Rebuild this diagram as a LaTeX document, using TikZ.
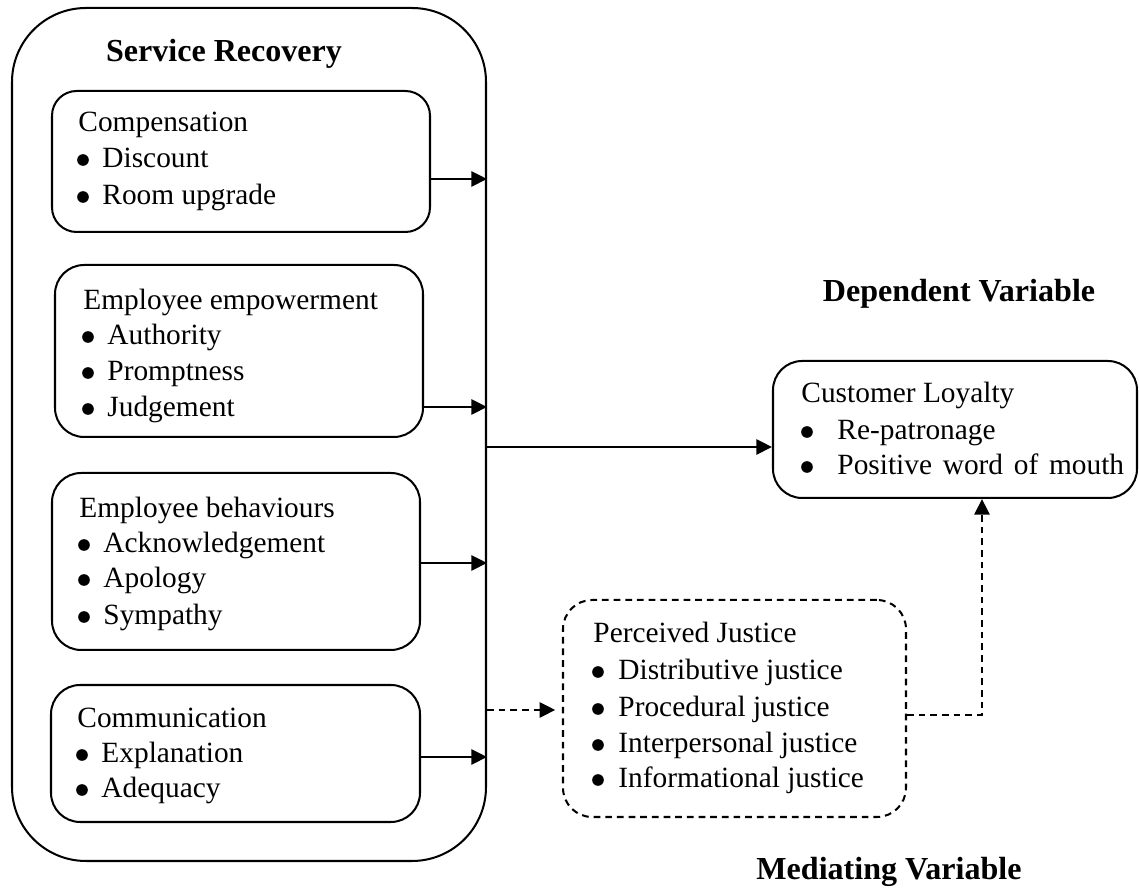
\documentclass[tikz,border=0pt]{standalone}
\usepackage{fontspec}
\setmainfont{Liberation Serif}
\usetikzlibrary{arrows.meta,calc,fit}

\begin{document}
\begin{tikzpicture}[x=0.446pt,y=-0.446pt,
  box/.style={draw,line width=0.9pt,rounded corners=11pt,inner sep=0pt},
  outerbox/.style={draw,line width=0.9pt,rounded corners=33pt,inner sep=0pt},
  dbox/.style={box,dash pattern=on 3pt off 2.2pt,rounded corners=13pt},
  txt/.style={anchor=base west,inner sep=0pt,font=\fontsize{13.1}{15}\selectfont},
  ttl/.style={anchor=base,inner sep=0pt,font=\fontsize{14.3}{17}\selectfont\bfseries},
  arr/.style={line width=0.9pt,-{Triangle[length=7pt,width=6.8pt]}},
  darr/.style={arr,dash pattern=on 3pt off 2.2pt}]
\useasboundingbox (0,0) rectangle (1139,892);

% a bulleted line: name, position of the bullet's left edge, text, [indent]
\newcommand{\bitem}[4][24]{%
  \node[txt] (#2) at ($(#3)+(#1,0)$) {#4};
  \fill ($(#3)+(5,-8)$) circle (2.6pt);}

% outer frame holding the four service recovery dimensions
\node[outerbox,fit={(12,8) (486,861)}] (outer) {};
\node[ttl] (srtitle) at (224,62) {Service Recovery};

% compensation
\node[box,fit={(52,91) (430,232)}] (comp) {};
\node[txt] (comp-t) at (78,132) {Compensation};
\bitem{comp-1}{78,168}{Discount}
\bitem{comp-2}{78,205}{Room upgrade}

% employee empowerment
\node[box,rounded corners=13pt,fit={(55,265) (423,437)}] (emp) {};
\node[txt] (emp-t) at (83,310) {Employee empowerment};
\bitem{emp-1}{83,345}{Authority}
\bitem{emp-2}{83,381}{Promptness}
\bitem{emp-3}{83,417}{Judgement}

% employee behaviours
\node[box,rounded corners=13pt,fit={(52,473) (420,650)}] (beh) {};
\node[txt] (beh-t) at (79,518) {Employee behaviours};
\bitem{beh-1}{79,553}{Acknowledgement}
\bitem{beh-2}{79,588}{Apology}
\bitem{beh-3}{79,625}{Sympathy}

% communication
\node[box,rounded corners=13pt,fit={(51,685) (420,822)}] (com) {};
\node[txt] (com-t) at (77,728) {Communication};
\bitem{com-1}{77,763}{Explanation}
\bitem{com-2}{77,798}{Adequacy}

% dependent variable
\node[ttl] (dvtitle) at (959,302) {Dependent Variable};
\node[box,rounded corners=13pt,fit={(773,361) (1137,498)}] (loy) {};
\node[txt] (loy-t) at (801,403) {Customer Loyalty};
\bitem[35]{loy-1}{802,440}{Re-patronage}
\bitem[35]{loy-2}{802,475}{Positive\hspace{1.5pt} word\hspace{1.5pt} of\hspace{1.5pt} mouth}

% mediating variable
\node[dbox,fit={(563,600) (906,817)}] (per) {};
\node[txt] (per-t) at (593,643) {Perceived Justice};
\bitem[25]{per-1}{593,680}{Distributive justice}
\bitem[25]{per-2}{593,717}{Procedural justice}
\bitem[25]{per-3}{593,753}{Interpersonal justice}
\bitem[25]{per-4}{593,788}{Informational justice}
\node[ttl] (mvtitle) at (889,880) {Mediating Variable};

% connectors from each dimension to the frame edge
\coordinate (c1) at ($(comp.east)+(-2,17.5)$);
\coordinate (c2) at ($(emp.east)+(-1,56)$);
\coordinate (c3) at ($(beh.east)+(0,1.5)$);
\coordinate (c4) at ($(com.east)+(0,3.5)$);
\draw[arr] (c1) -- (c1 -| outer.east);
\draw[arr] (c2) -- (c2 -| outer.east);
\draw[arr] (c3) -- (c3 -| outer.east);
\draw[arr] (c4) -- (c4 -| outer.east);

% service recovery to customer loyalty
\coordinate (c5) at ($(loy.west)+(0,17.5)$);
\draw[arr] (c5 -| outer.east) -- (c5);

% service recovery to perceived justice (mediated path)
\coordinate (c6) at ($(per.west)+(0,1.5)$);
\draw[darr,shorten >=3pt] (c6 -| outer.east) -- (c6);

% perceived justice to customer loyalty
\coordinate (c7) at ($(per.east)+(0,6.5)$);
\coordinate (c8) at ($(loy.south)+(27,0)$);
\draw[darr] (c7) -| (c8);
\end{tikzpicture}
\end{document}
